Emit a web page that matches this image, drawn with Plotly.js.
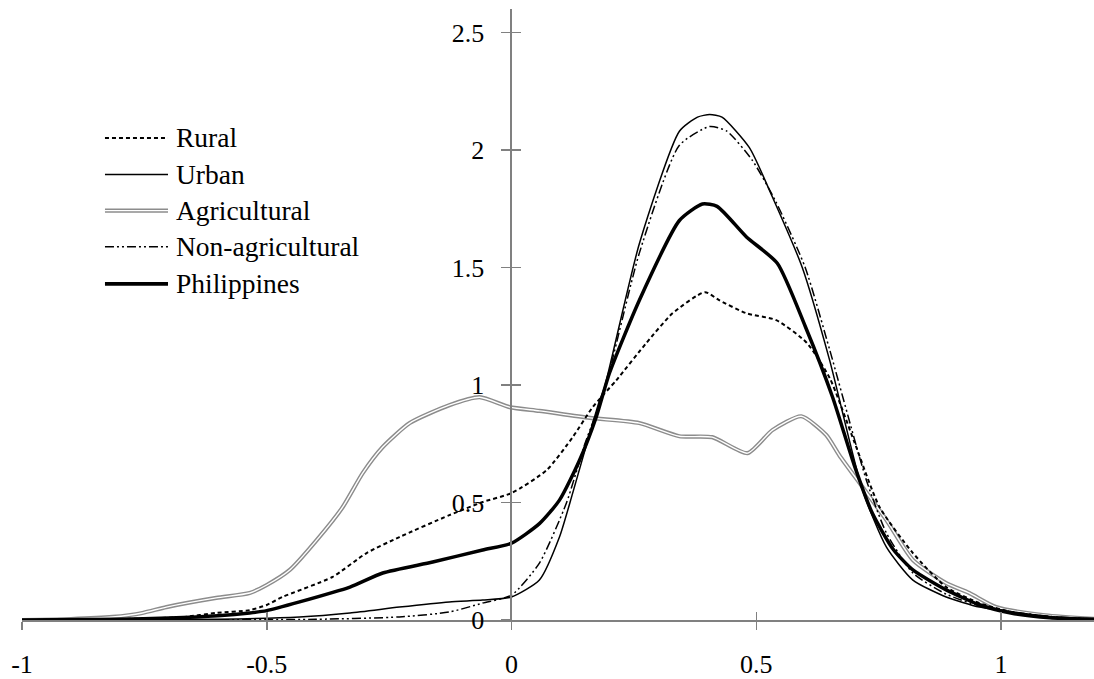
<!DOCTYPE html>
<html><head><meta charset="utf-8">
<script src="https://cdn.plot.ly/plotly-3.0.1.min.js"></script>
<style>html,body{margin:0;padding:0;background:#fff}#chart{width:1094px;height:679px}</style>
</head><body><div id="chart"></div>
<script>
const seriesNames = ["Rural", "Urban", "Agricultural", "Non-agricultural", "Philippines"];

const xRural = [-1, -0.8, -0.67, -0.603, -0.535, -0.5, -0.468, -0.366, -0.296, -0.229, -0.127, -0.059, 0, 0.072, 0.125, 0.166, 0.214, 0.276, 0.329, 0.395, 0.425, 0.48, 0.541, 0.603, 0.65, 0.7, 0.752, 0.82, 0.888, 0.956, 1.02, 1.1, 1.19];
const yRural = [0, 0.004, 0.013, 0.03, 0.042, 0.064, 0.098, 0.183, 0.285, 0.353, 0.446, 0.502, 0.54, 0.638, 0.778, 0.906, 1.02, 1.18, 1.305, 1.395, 1.36, 1.305, 1.276, 1.18, 1.03, 0.76, 0.48, 0.285, 0.14, 0.072, 0.035, 0.012, 0.004];

const xUrban = [-1, -0.6, -0.433, -0.33, -0.229, -0.127, -0.059, 0, 0.057, 0.098, 0.125, 0.16, 0.18, 0.19, 0.261, 0.343, 0.38, 0.405, 0.43, 0.486, 0.533, 0.594, 0.65, 0.717, 0.766, 0.82, 0.888, 0.956, 1.024, 1.1, 1.19];
const yUrban = [0, 0.003, 0.013, 0.03, 0.055, 0.077, 0.085, 0.098, 0.17, 0.353, 0.54, 0.795, 0.935, 0.99, 1.60, 2.08, 2.14, 2.151, 2.14, 2.01, 1.80, 1.50, 1.105, 0.553, 0.31, 0.17, 0.098, 0.055, 0.034, 0.015, 0.005];

const xAgri = [-1, -0.9, -0.815, -0.754, -0.705, -0.603, -0.535, -0.5, -0.453, -0.398, -0.345, -0.304, -0.263, -0.208, -0.127, -0.065, -0.004, 0.057, 0.16, 0.261, 0.343, 0.41, 0.482, 0.533, 0.592, 0.643, 0.67, 0.717, 0.766, 0.82, 0.888, 0.935, 0.99, 1.09, 1.19];
const yAgri = [0, 0.004, 0.013, 0.03, 0.055, 0.094, 0.115, 0.149, 0.213, 0.34, 0.48, 0.625, 0.736, 0.838, 0.914, 0.948, 0.906, 0.89, 0.86, 0.838, 0.782, 0.778, 0.71, 0.808, 0.867, 0.787, 0.70, 0.566, 0.425, 0.255, 0.157, 0.115, 0.055, 0.02, 0.005];

const xNonAgri = [-1, -0.4, -0.229, -0.127, -0.059, 0, 0.057, 0.112, 0.15, 0.19, 0.261, 0.343, 0.405, 0.44, 0.492, 0.54, 0.6, 0.65, 0.725, 0.766, 0.82, 0.888, 0.956, 1.024, 1.1, 1.19];
const yNonAgri = [0, 0.003, 0.013, 0.034, 0.072, 0.106, 0.242, 0.497, 0.75, 0.98, 1.56, 2.02, 2.10, 2.08, 1.956, 1.78, 1.50, 1.15, 0.595, 0.37, 0.2, 0.11, 0.06, 0.035, 0.015, 0.005];

const xPhil = [-1, -0.8, -0.7, -0.6, -0.535, -0.5, -0.433, -0.33, -0.263, -0.161, -0.059, 0, 0.057, 0.098, 0.139, 0.173, 0.2, 0.261, 0.343, 0.39, 0.42, 0.48, 0.543, 0.6, 0.656, 0.7, 0.737, 0.78, 0.82, 0.888, 0.956, 1.02, 1.1, 1.19];
const yPhil = [0, 0.003, 0.008, 0.018, 0.03, 0.04, 0.077, 0.14, 0.2, 0.247, 0.298, 0.327, 0.41, 0.51, 0.68, 0.863, 1.05, 1.36, 1.70, 1.77, 1.76, 1.63, 1.518, 1.25, 0.948, 0.66, 0.455, 0.30, 0.213, 0.128, 0.065, 0.03, 0.01, 0.003];

const xTickVals = [-1, -0.5, 0, 0.5, 1];
const xTickText = ["-1", "-0.5", "0", "0.5", "1"];
const yTickVals = [0, 0.5, 1, 1.5, 2, 2.5];
const yTickText = ["0", "0.5", "1", "1.5", "2", "2.5"];

const FONT = "Liberation Serif, Times New Roman, serif";
const AX = "#808080";
const dashRural = "4px,3px";
const dashNonAgri = "9px,3px,2px,3px,2px,3px";
const xRange = [-1, 1.19];
const yRange = [0, 2.6];
const yAxisPos = (0 - xRange[0]) / (xRange[1] - xRange[0]);
const SM = 0.6;

const traces = [
  {x: xAgri, y: yAgri, mode: "lines", name: seriesNames[2], line: {color: "#8c8c8c", width: 4.2, shape: "spline", smoothing: SM}, showlegend: false, hoverinfo: "skip"},
  {x: xAgri, y: yAgri, mode: "lines", name: seriesNames[2], line: {color: "#ffffff", width: 1.4, shape: "spline", smoothing: SM}, showlegend: false, hoverinfo: "skip"},
  {x: xRural, y: yRural, mode: "lines", name: seriesNames[0], line: {color: "#000", width: 2, dash: dashRural, shape: "spline", smoothing: SM}, showlegend: false},
  {x: xUrban, y: yUrban, mode: "lines", name: seriesNames[1], line: {color: "#000", width: 1.5, shape: "spline", smoothing: SM}, showlegend: false},
  {x: xNonAgri, y: yNonAgri, mode: "lines", name: seriesNames[3], line: {color: "#000", width: 1.5, dash: dashNonAgri, shape: "spline", smoothing: SM}, showlegend: false},
  {x: xPhil, y: yPhil, mode: "lines", name: seriesNames[4], line: {color: "#000", width: 3.5, shape: "spline", smoothing: SM}, showlegend: false},
  {x: [], y: [], xaxis: "x2", yaxis: "y2", showlegend: false}
];

// manual legend (paper coordinates)
const legX0 = 0.0774, legX1 = 0.1362, legTX = 0.1418;
const legY = [0.789, 0.729, 0.670, 0.611, 0.550];
const legStyles = [
  [{color: "#000", width: 2, dash: dashRural}],
  [{color: "#000", width: 1.5}],
  [{color: "#8c8c8c", width: 4.2}, {color: "#fff", width: 1.4}],
  [{color: "#000", width: 1.5, dash: dashNonAgri}],
  [{color: "#000", width: 3.8}]
];
const shapes = [];
const annotations = [];
seriesNames.forEach((n, i) => {
  legStyles[i].forEach(st => shapes.push({type: "line", xref: "paper", yref: "paper", x0: legX0, x1: legX1, y0: legY[i], y1: legY[i], line: st}));
  annotations.push({xref: "paper", yref: "paper", x: legTX, y: legY[i], xanchor: "left", yanchor: "middle", text: n, showarrow: false, font: {family: FONT, size: 27.5, color: "#000"}});
});

const layout = {
  width: 1094, height: 679,
  margin: {l: 22, r: 0, t: 9, b: 59},
  paper_bgcolor: "#fff", plot_bgcolor: "#fff",
  showlegend: false,
  font: {family: FONT, size: 26, color: "#000"},
  xaxis: {range: xRange, tickvals: xTickVals, ticktext: xTickText, showgrid: false, zeroline: false,
          showline: true, linecolor: AX, linewidth: 2, ticks: "outside", ticklen: 8, tickwidth: 1.5, tickcolor: AX,
          ticklabelstandoff: 12, tickfont: {family: FONT, size: 26, color: "#000"}, fixedrange: true},
  xaxis2: {range: xRange, overlaying: "x", anchor: "y", tickvals: xTickVals, showticklabels: false, showgrid: false, zeroline: false,
          showline: false, ticks: "inside", ticklen: 8, tickwidth: 1.5, tickcolor: AX},
  yaxis: {range: yRange, tickvals: yTickVals, ticktext: yTickText, showgrid: false, zeroline: false,
          anchor: "free", position: yAxisPos, side: "left",
          showline: true, linecolor: AX, linewidth: 2, ticks: "outside", ticklen: 9, tickwidth: 1.5, tickcolor: AX,
          ticklabelstandoff: 12, tickfont: {family: FONT, size: 26, color: "#000"}, fixedrange: true},
  yaxis2: {range: yRange, overlaying: "y", anchor: "free", position: yAxisPos, side: "left", tickvals: yTickVals,
          showticklabels: false, showgrid: false, zeroline: false, showline: false, ticks: "inside", ticklen: 9, tickwidth: 1.5, tickcolor: AX},
  shapes: shapes,
  annotations: annotations
};

Plotly.newPlot("chart", traces, layout, {displayModeBar: false, staticPlot: true});
</script></body></html>
